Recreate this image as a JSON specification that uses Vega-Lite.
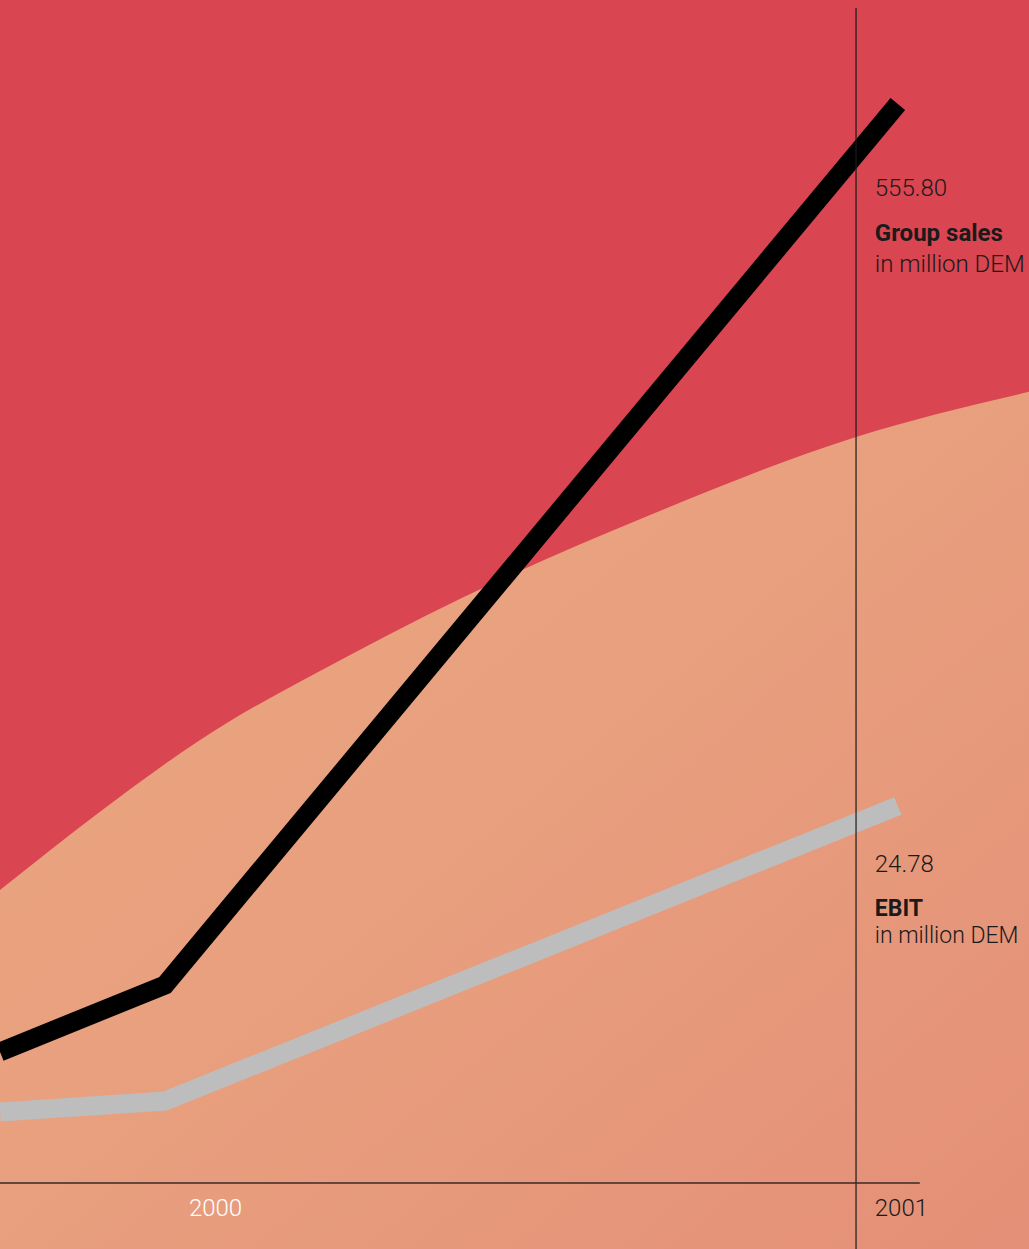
{
  "$schema": "https://vega.github.io/schema/vega-lite/v6.json",
  "width": 1029,
  "height": 1249,
  "autosize": {"type": "none"},
  "padding": 0,
  "background": "#d94550",
  "config": {
    "view": {"stroke": null},
    "text": {"font": "Roboto", "fontSize": 24, "fontWeight": 300, "color": "#1a1a1a", "align": "left", "baseline": "alphabetic"}
  },
  "datasets": {
    "sales": [
      {"year": 1999.775, "value": 67.5},
      {"year": 2000, "value": 102.0},
      {"year": 2001, "value": 555.80}
    ],
    "ebit": [
      {"year": 1999.775, "value": 4.67},
      {"year": 2000, "value": 5.39},
      {"year": 2001, "value": 24.78}
    ],
    "backdrop": [
      {"year": 1999.775, "value": 150.9},
      {"year": 1999.911, "value": 191.1},
      {"year": 2000.048, "value": 228.2},
      {"year": 2000.252, "value": 271.9},
      {"year": 2000.457, "value": 310.6},
      {"year": 2000.662, "value": 344.1},
      {"year": 2000.943, "value": 384.3},
      {"year": 2001.179, "value": 407.5}
    ],
    "years": [
      {"year": 2000, "label": "2000"},
      {"year": 2001, "label": "2001"}
    ]
  },
  "resolve": {"scale": {"y": "independent"}},
  "layer": [
    {
      "data": {"name": "backdrop"},
      "mark": {
        "type": "area",
        "interpolate": "monotone",
        "color": {
          "gradient": "linear",
          "x1": 0, "y1": 0, "x2": 1, "y2": 1,
          "stops": [
            {"offset": 0, "color": "#eba780"},
            {"offset": 0.5, "color": "#e89f7e"},
            {"offset": 1, "color": "#e48f77"}
          ]
        }
      },
      "encoding": {
        "x": {"field": "year", "type": "quantitative", "axis": null, "scale": {"domain": [1999.775, 2001.179], "nice": false, "zero": false}},
        "y": {"field": "value", "type": "quantitative", "axis": null, "scale": {"domain": [-34.0, 609.35], "nice": false, "zero": false}},
        "y2": {"datum": -34.0}
      }
    },
    {
      "data": {"name": "ebit"},
      "mark": {"type": "line", "color": "#bdbdbd", "strokeWidth": 19, "strokeCap": "butt", "strokeJoin": "miter"},
      "encoding": {
        "x": {"field": "year", "type": "quantitative", "axis": null, "scale": {"domain": [1999.775, 2001.179], "nice": false, "zero": false}},
        "y": {"field": "value", "type": "quantitative", "axis": null, "scale": {"domain": [-4.338, 77.757], "nice": false, "zero": false}}
      }
    },
    {
      "data": {"name": "sales"},
      "mark": {"type": "line", "color": "#000000", "strokeWidth": 19, "strokeCap": "butt", "strokeJoin": "miter"},
      "encoding": {
        "x": {"field": "year", "type": "quantitative", "axis": null, "scale": {"domain": [1999.775, 2001.179], "nice": false, "zero": false}},
        "y": {"field": "value", "type": "quantitative", "axis": null, "scale": {"domain": [-34.0, 609.35], "nice": false, "zero": false}}
      }
    },
    {
      "data": {"values": [{"year": 2000.943, "top": 605.2, "bottom": -34.0}]},
      "mark": {"type": "rule", "color": "#1a1a1a", "strokeWidth": 1.2},
      "encoding": {
        "x": {"field": "year", "type": "quantitative", "axis": null, "scale": {"domain": [1999.775, 2001.179], "nice": false, "zero": false}},
        "y": {"field": "top", "type": "quantitative", "axis": null, "scale": {"domain": [-34.0, 609.35], "nice": false, "zero": false}},
        "y2": {"field": "bottom"}
      }
    },
    {
      "data": {"values": [{"start": 1999.775, "end": 2001.03, "level": 0}]},
      "mark": {"type": "rule", "color": "#3a2828", "strokeWidth": 1.4},
      "encoding": {
        "x": {"field": "start", "type": "quantitative", "axis": null, "scale": {"domain": [1999.775, 2001.179], "nice": false, "zero": false}},
        "x2": {"field": "end"},
        "y": {"field": "level", "type": "quantitative", "axis": null, "scale": {"domain": [-34.0, 609.35], "nice": false, "zero": false}}
      }
    },
    {
      "data": {"name": "years"},
      "transform": [{"filter": "datum.year === 2000"}],
      "mark": {"type": "text", "color": "#ffffff", "dx": 24, "dy": 33},
      "encoding": {
        "x": {"field": "year", "type": "quantitative", "axis": null, "scale": {"domain": [1999.775, 2001.179], "nice": false, "zero": false}},
        "y": {"datum": 0, "type": "quantitative", "axis": null, "scale": {"domain": [-34.0, 609.35], "nice": false, "zero": false}},
        "text": {"field": "label"}
      }
    },
    {
      "data": {"name": "years"},
      "transform": [{"filter": "datum.year === 2001"}],
      "mark": {"type": "text", "dx": -23, "dy": 33},
      "encoding": {
        "x": {"field": "year", "type": "quantitative", "axis": null, "scale": {"domain": [1999.775, 2001.179], "nice": false, "zero": false}},
        "y": {"datum": 0, "type": "quantitative", "axis": null, "scale": {"domain": [-34.0, 609.35], "nice": false, "zero": false}},
        "text": {"field": "label"}
      }
    },
    {
      "data": {"name": "sales"},
      "transform": [{"filter": "datum.year === 2001"}],
      "encoding": {
        "x": {"field": "year", "type": "quantitative", "axis": null, "scale": {"domain": [1999.775, 2001.179], "nice": false, "zero": false}},
        "y": {"field": "value", "type": "quantitative", "axis": null, "scale": {"domain": [-34.0, 609.35], "nice": false, "zero": false}}
      },
      "layer": [
        {"mark": {"type": "text", "dx": -23, "dy": 92}, "encoding": {"text": {"field": "value", "format": ".2f"}}},
        {"mark": {"type": "text", "dx": -23, "dy": 137, "fontWeight": 700, "text": "Group sales"}},
        {"mark": {"type": "text", "dx": -23, "dy": 168, "text": "in million DEM"}}
      ]
    },
    {
      "data": {"name": "ebit"},
      "transform": [{"filter": "datum.year === 2001"}],
      "encoding": {
        "x": {"field": "year", "type": "quantitative", "axis": null, "scale": {"domain": [1999.775, 2001.179], "nice": false, "zero": false}},
        "y": {"field": "value", "type": "quantitative", "axis": null, "scale": {"domain": [-4.338, 77.757], "nice": false, "zero": false}}
      },
      "layer": [
        {"mark": {"type": "text", "dx": -23, "dy": 66}, "encoding": {"text": {"field": "value", "format": ".2f"}}},
        {"mark": {"type": "text", "dx": -23, "dy": 110, "fontSize": 23, "fontWeight": 700, "text": "EBIT"}},
        {"mark": {"type": "text", "dx": -23, "dy": 137, "fontSize": 23, "text": "in million DEM"}}
      ]
    }
  ]
}
